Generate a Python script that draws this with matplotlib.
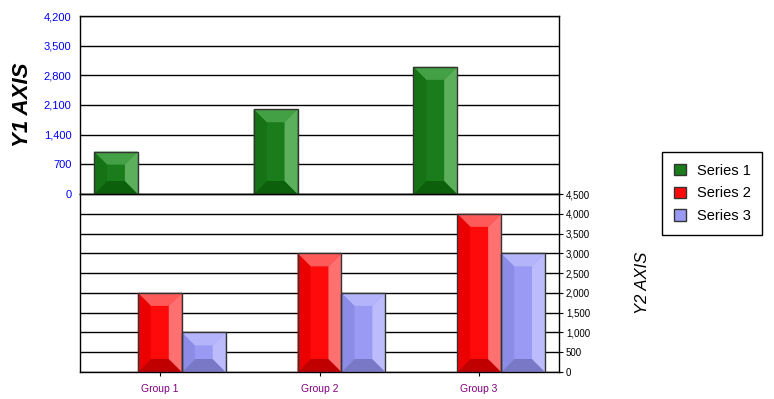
import numpy as np
import matplotlib
matplotlib.use('Agg')
import matplotlib.pyplot as plt
from matplotlib.patches import Polygon, Patch
from matplotlib.ticker import FuncFormatter

plt.rcParams['font.family'] = ['Liberation Sans', 'DejaVu Sans']

# data
groups = ['Group 1', 'Group 2', 'Group 3']
series_names = ['Series 1', 'Series 2', 'Series 3']
series1 = [1000, 2000, 3000]
series2 = [2000, 3000, 4000]
series3 = [1000, 2000, 3000]
y1_ticks = [0, 700, 1400, 2100, 2800, 3500, 4200]
y2_ticks = [0, 500, 1000, 1500, 2000, 2500, 3000, 3500, 4000, 4500]

# face, top, right, bottom, left
shades = {
    'green': ('#1a7c1a', '#44a044', '#5cb05c', '#0c600c', '#157315'),
    'red':   ('#ff0a0a', '#ff5a5a', '#ff7070', '#c00000', '#eb0000'),
    'blue':  ('#9a9af4', '#b4b4fa', '#bcbcfc', '#7878c6', '#8c8ce6'),
}

W, H = 774, 399
fig = plt.figure(figsize=(W / 100, H / 100), dpi=100)
left, right = 80 / W, 559 / W
ax1 = fig.add_axes([left, 1 - 194 / H, right - left, 178 / H])
ax2 = fig.add_axes([left, 1 - 372 / H, right - left, 178 / H])

x = np.arange(len(groups))
bw = 0.275
thousands = FuncFormatter(lambda v, p: f'{v:,.0f}')


def bevel(ax, bars, cols, depth=13):
    bb = ax.get_window_extent()
    xl, yl = ax.get_xlim(), ax.get_ylim()
    px = (xl[1] - xl[0]) / bb.width
    py = (yl[1] - yl[0]) / bb.height
    face, top, rgt, bot, lft = cols
    for r in bars:
        l, b = r.get_x(), r.get_y()
        w, h = r.get_width(), r.get_height()
        t, rr = b + h, l + w
        dx = min(depth * px, w / 2)
        dy = min(depth * py, h / 2)
        polys = [
            ([(l, t), (rr, t), (rr - dx, t - dy), (l + dx, t - dy)], top),
            ([(l, b), (rr, b), (rr - dx, b + dy), (l + dx, b + dy)], bot),
            ([(l, b), (l, t), (l + dx, t - dy), (l + dx, b + dy)], lft),
            ([(rr, b), (rr, t), (rr - dx, t - dy), (rr - dx, b + dy)], rgt),
        ]
        for pts, c in polys:
            ax.add_patch(Polygon(pts, closed=True, facecolor=c, edgecolor='none', zorder=3.1))


def draw_series(ax, xs, vals, cols):
    bars = ax.bar(xs, vals, bw, color=cols[0], edgecolor='none', zorder=3)
    bevel(ax, bars, cols)
    ax.bar(xs, vals, bw, fill=False, edgecolor='#333333', linewidth=1, zorder=3.2)


for ax in (ax1, ax2):
    ax.set_xlim(-0.5, len(groups) - 0.5)
    ax.yaxis.grid(True, color='black', linewidth=1)
    ax.set_axisbelow(True)
    for s in ax.spines.values():
        s.set_color('black')
        s.set_linewidth(1)

ax1.set_ylim(0, 4200)
ax2.set_ylim(0, 4500)

# top panel
ax1.set_yticks(y1_ticks)
ax1.yaxis.set_major_formatter(thousands)
ax1.tick_params(axis='y', length=0, pad=6, labelsize=8, labelcolor='blue')
ax1.tick_params(axis='x', bottom=False, labelbottom=False)
ax1.set_ylabel('Y1 AXIS', fontsize=16, fontweight='bold', fontstyle='italic')
ax1.yaxis.set_label_coords(-(80 - 33) / 479, 0.5)

# bottom panel
ax2.set_yticks(y2_ticks)
ax2.yaxis.set_major_formatter(thousands)
ax2.yaxis.tick_right()
ax2.tick_params(axis='y', length=3, pad=2, labelsize=7, labelcolor='black')
ax2.set_xticks(x)
ax2.set_xticklabels(groups)
ax2.tick_params(axis='x', length=3, pad=6, labelsize=7.5, labelcolor='#800080')
ax2.yaxis.set_label_position('right')
ax2.set_ylabel('Y2 AXIS', fontsize=12, fontstyle='italic', rotation=90)
ax2.yaxis.set_label_coords((635 - 80) / 479, 0.5)

draw_series(ax1, x - bw, series1, shades['green'])
draw_series(ax2, x, series2, shades['red'])
draw_series(ax2, x + bw, series3, shades['blue'])

handles = [Patch(facecolor=shades[c][0], edgecolor='#333333', linewidth=1)
           for c in ('green', 'red', 'blue')]
leg = fig.legend(handles, series_names, loc='upper left',
                 bbox_to_anchor=(662 / W, 1 - 152 / H), borderaxespad=0,
                 fontsize=10.5, frameon=True, fancybox=False, framealpha=1,
                 edgecolor='black', handlelength=0.82, handleheight=0.82,
                 handletextpad=0.75, labelspacing=0.6, borderpad=0.8)
leg.get_frame().set_linewidth(1)

fig.savefig('out.png', dpi=100)
